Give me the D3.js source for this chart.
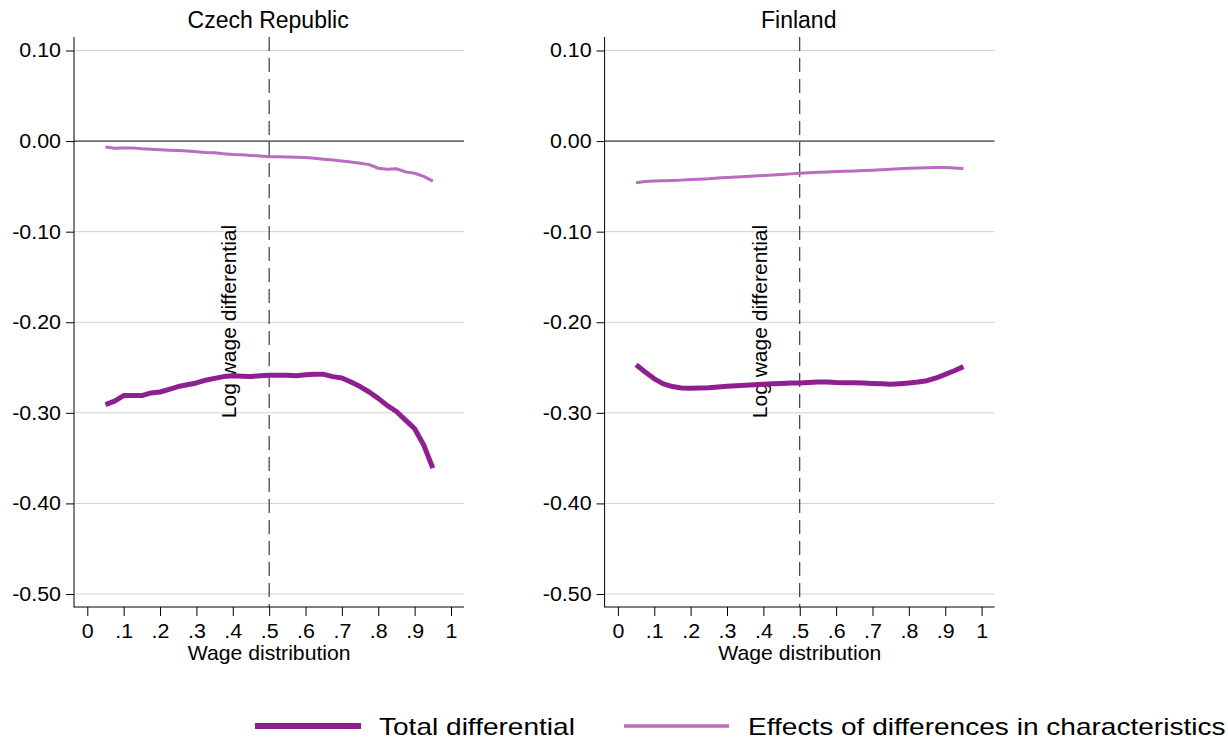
<!DOCTYPE html>
<html>
<head>
<meta charset="utf-8">
<script src="https://cdn.jsdelivr.net/npm/d3@7"></script>
<style>
  body { margin: 0; background: #fff; }
  svg { display: block; font-family: "Liberation Sans", Arial, sans-serif; }
</style>
</head>
<body>
<div id="container"></div>
<script>
// quantiles of the wage distribution
const quantiles = [0.05, 0.075, 0.1, 0.125, 0.15, 0.175, 0.2, 0.225, 0.25, 0.275, 0.3, 0.325, 0.35, 0.375,
  0.4, 0.425, 0.45, 0.475, 0.5, 0.525, 0.55, 0.575, 0.6, 0.625, 0.65, 0.675, 0.7, 0.725, 0.75, 0.775,
  0.8, 0.825, 0.85, 0.875, 0.9, 0.925, 0.95];

const countries = ['Czech Republic', 'Finland'];
const seriesNames = ['Total differential', 'Effects of differences in characteristics'];

const czTotal = [-0.291, -0.287, -0.281, -0.281, -0.281, -0.278, -0.277, -0.274, -0.271, -0.269, -0.267, -0.264,
  -0.262, -0.260, -0.259, -0.2595, -0.260, -0.259, -0.2585, -0.2585, -0.2585, -0.259, -0.258, -0.2575, -0.2575,
  -0.260, -0.2615, -0.266, -0.271, -0.277, -0.284, -0.292, -0.2985, -0.308, -0.3175, -0.3355, -0.361];
const czEffects = [-0.0065, -0.0078, -0.0076, -0.0075, -0.0085, -0.009, -0.0095, -0.010, -0.0105, -0.011, -0.0117,
  -0.0125, -0.013, -0.014, -0.0147, -0.015, -0.0158, -0.0165, -0.0173, -0.0172, -0.0175, -0.0178, -0.018, -0.019,
  -0.020, -0.021, -0.022, -0.023, -0.0245, -0.026, -0.030, -0.031, -0.0305, -0.034, -0.0355, -0.039, -0.0442];
const fiTotal = [-0.247, -0.255, -0.2625, -0.268, -0.271, -0.2725, -0.2728, -0.2727, -0.2724, -0.2715, -0.2707,
  -0.270, -0.2695, -0.269, -0.2685, -0.268, -0.2675, -0.267, -0.267, -0.2665, -0.266, -0.266, -0.2665, -0.2667,
  -0.2668, -0.2672, -0.2675, -0.268, -0.2685, -0.2678, -0.267, -0.266, -0.2645, -0.2615, -0.2575, -0.2535, -0.249];
const fiEffects = [-0.046, -0.0445, -0.0442, -0.0438, -0.0435, -0.0431, -0.0425, -0.042, -0.0415, -0.0407, -0.0402,
  -0.0397, -0.0392, -0.0386, -0.0381, -0.0375, -0.0369, -0.0362, -0.0355, -0.035, -0.0345, -0.0341, -0.0337,
  -0.0333, -0.0329, -0.0325, -0.0321, -0.0316, -0.0311, -0.0305, -0.0301, -0.0298, -0.0295, -0.0293, -0.0291,
  -0.0296, -0.0302];

const yTicks = [0.1, 0, -0.1, -0.2, -0.3, -0.4, -0.5];
const xTicks = [0, 0.1, 0.2, 0.3, 0.4, 0.5, 0.6, 0.7, 0.8, 0.9, 1];
const refLine = 0.5;

const panels = [
  { name: countries[0], total: czTotal, effects: czEffects, left: 74 },
  { name: countries[1], total: fiTotal, effects: fiEffects, left: 604.6 }
];

const colors = { total: '#8e1f8e', effects: '#ba6cbe' };
const W = 1228, H = 741;
const plotTop = 37, plotBottom = 607, plotW = 390;
const SX = 1.07; // stata text is a bit wider than arial

const svg = d3.select('#container').append('svg')
  .attr('width', W).attr('height', H);

const x = d3.scaleLinear().domain([0, 1]).range([13.3, 377]);
const y = d3.scaleLinear().domain([-0.5, 0.1]).range([594, 50.5]);

const line = d3.line()
  .x(d => x(d[0]))
  .y(d => y(d[1]));

panels.forEach(p => {
  const g = svg.append('g').attr('transform', `translate(${p.left},0)`);

  // grid
  g.append('g')
    .selectAll('line')
    .data(yTicks.filter(d => d !== 0))
    .join('line')
      .attr('x1', 0).attr('x2', plotW)
      .attr('y1', d => y(d)).attr('y2', d => y(d))
      .attr('stroke', '#d0d0d0').attr('stroke-width', 1);

  g.append('line')
    .attr('x1', 0).attr('x2', plotW)
    .attr('y1', y(0)).attr('y2', y(0))
    .attr('stroke', '#000').attr('stroke-width', 1);

  // reference line at the median
  g.append('line')
    .attr('x1', x(refLine)).attr('x2', x(refLine))
    .attr('y1', plotTop).attr('y2', plotBottom)
    .attr('stroke', '#111').attr('stroke-width', 1)
    .attr('stroke-dasharray', '14,7');

  // y title, sits oddly inside the plot like the original
  g.append('text')
    .attr('transform', `translate(${162},${321.5}) rotate(-90) scale(1.05,1)`)
    .attr('text-anchor', 'middle')
    .attr('font-size', 20)
    .text('Log wage differential');

  // series
  g.append('path')
    .datum(quantiles.map((q, i) => [q, p.effects[i]]))
    .attr('fill', 'none')
    .attr('stroke', colors.effects)
    .attr('stroke-width', 3)
    .attr('stroke-linejoin', 'round')
    .attr('d', line);

  g.append('path')
    .datum(quantiles.map((q, i) => [q, p.total[i]]))
    .attr('fill', 'none')
    .attr('stroke', colors.total)
    .attr('stroke-width', 5)
    .attr('stroke-linejoin', 'round')
    .attr('d', line);

  // axes
  const yAxis = g.append('g')
    .call(d3.axisLeft(y).tickValues(yTicks).tickSize(8).tickPadding(5).tickFormat(d => d.toFixed(2)));
  yAxis.select('.domain').remove();
  yAxis.selectAll('text')
    .attr('x', -13 / SX)
    .attr('transform', `scale(${SX},1)`)
    .attr('font-size', 20)
    .attr('fill', '#000')
    .attr('font-family', null);

  const xAxis = g.append('g')
    .attr('transform', `translate(0,${plotBottom})`)
    .call(d3.axisBottom(x).tickValues(xTicks).tickSize(9).tickPadding(8)
      .tickFormat(d => d === 0 ? '0' : d === 1 ? '1' : d.toFixed(1).replace(/^0/, '')));
  xAxis.select('.domain').remove();
  xAxis.selectAll('text')
    .attr('transform', `scale(${SX},1)`)
    .attr('font-size', 20)
    .attr('fill', '#000')
    .attr('font-family', null);

  g.append('line')
    .attr('x1', 0).attr('x2', 0)
    .attr('y1', plotTop).attr('y2', plotBottom + 0.5)
    .attr('stroke', '#000');
  g.append('line')
    .attr('x1', 0).attr('x2', plotW)
    .attr('y1', plotBottom).attr('y2', plotBottom)
    .attr('stroke', '#000');

  g.append('text')
    .attr('transform', `translate(${x(0.5)},659.5) scale(1.06,1)`)
    .attr('text-anchor', 'middle')
    .attr('font-size', 20)
    .text('Wage distribution');

  g.append('text')
    .attr('x', x(0.5) - 1).attr('y', 28)
    .attr('text-anchor', 'middle')
    .attr('font-size', 23)
    .text(p.name);
});

// legend
const legendItems = [
  { label: seriesNames[0], color: colors.total, width: 6, x1: 255, x2: 361, tx: 379 },
  { label: seriesNames[1], color: colors.effects, width: 3.5, x1: 624, x2: 729, tx: 748 }
];
const legend = svg.append('g').attr('id', 'legend');
legendItems.forEach(d => {
  legend.append('line')
    .attr('x1', d.x1).attr('x2', d.x2)
    .attr('y1', 726).attr('y2', 726)
    .attr('stroke', d.color).attr('stroke-width', d.width);
  legend.append('text')
    .attr('transform', `translate(${d.tx},735) scale(1.22,1)`)
    .attr('font-size', 23)
    .text(d.label);
});
</script>
</body>
</html>
